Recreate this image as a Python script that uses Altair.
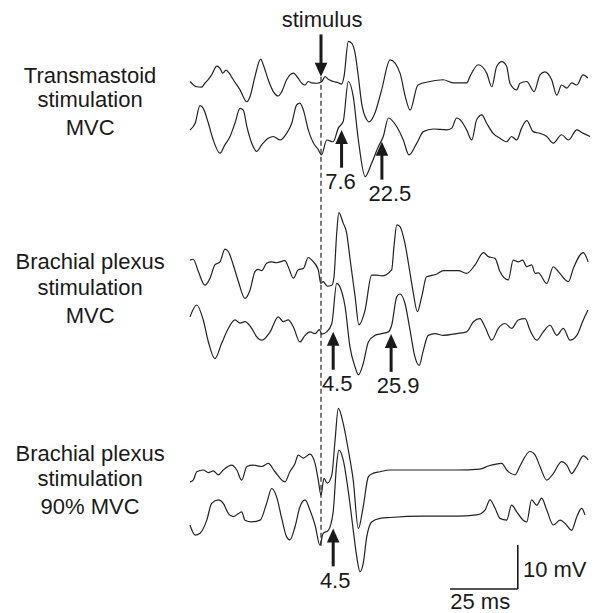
import altair as alt
import pandas as pd

# ---- EMG traces: (time in ms relative to stimulus, amplitude in mV relative to trace baseline)
trace_tm_upper = [(-48.4,0.1),(-45.9,-1.1),(-44.1,-1.2),(-42.9,-0.3),(-41.6,0.6),(-40.4,1.6),(-38.5,3.6),(-37.3,3.1),(-36.3,2.0),(-35.1,2.7),
    (-33.9,2.0),(-32.4,0.5),(-29.9,-1.8),(-27.4,-4.5),(-26.2,-3.3),(-24.4,1.2),(-22.3,5.2),(-21.1,3.5),(-19.5,0.5),(-17.6,-2.2),
    (-15.8,-3.2),(-14.5,-2.2),(-12.7,0.5),(-10.2,2.0),(-8.4,0.8),(-7.1,-0.3),(-5.9,-0.7),(-4.7,0.1),(-3.4,-0.2),(-1.6,-0.3),
    (0.3,0.1),(1.5,1.2),(2.7,0.6),(4.5,0.1),(6.4,-0.2),(7.6,-0.5),(8.5,1.2),(10.1,9.2),(11.3,8.8),(12.6,6.5),
    (13.8,1.2),(15.0,-4.8),(16.9,-8.6),(17.7,-9.1),(19.9,-7.1),(22.4,-1.8),(25.5,5.0),(29.2,2.0),(31.0,-3.0),(32.9,-6.4),
    (35.8,-0.7),(40.3,0.1),(45.1,0.5),(48.8,-0.2),(53.9,-0.2),(55.0,1.2),(58.1,3.9),(61.2,2.0),(63.1,-1.1),(64.9,3.5),
    (66.8,4.6),(68.6,3.5),(69.8,-0.3),(72.3,-1.8),(73.5,-0.3),(76.0,0.1),(78.7,-2.2),(80.9,1.6),(82.7,2.3),(85.2,0.5),
    (87.1,-3.0),(88.9,-0.7),(90.8,-1.4),(92.6,-0.2),(94.5,-0.7),(96.8,1.6),(98.6,0.9)]

trace_tm_lower = [(-48.4,0.0),(-46.5,1.5),(-44.7,5.5),(-43.5,4.9),(-41.6,1.5),(-39.8,-2.3),(-37.3,-5.3),(-35.5,-3.4),(-33.6,-1.5),(-31.8,1.5),
    (-29.9,4.9),(-28.7,4.5),(-27.4,0.8),(-25.6,-3.0),(-23.8,-4.9),(-21.9,-3.4),(-19.5,-1.9),(-17.6,-1.5),(-15.1,-2.3),(-12.7,-0.8),
    (-10.8,1.5),(-9.0,5.7),(-7.8,6.1),(-6.5,4.5),(-4.7,0.0),(-2.8,-3.0),(-1.0,-4.5),(0.2,-5.7),(2.1,-2.3),(4.5,-2.7),
    (6.4,0.4),(8.2,1.9),(10.1,11.0),(11.9,7.6),(13.8,-2.3),(16.3,-10.6),(18.7,-7.6),(21.2,-3.8),(23.0,-1.5),(24.9,2.7),
    (28.0,0.7),(30.4,-2.3),(32.5,-5.7),(35.4,-3.0),(37.8,-0.4),(41.5,0.2),(46.4,0.0),(48.3,0.4),(50.1,2.7),(52.0,1.9),
    (53.8,0.0),(55.7,-2.3),(57.5,2.3),(59.4,3.4),(61.2,1.5),(63.6,-0.8),(66.1,-1.9),(68.6,-2.7),(70.4,-1.5),(72.3,-2.3),
    (74.1,0.4),(76.0,2.1),(78.4,-0.4),(80.9,-0.8),(83.4,-1.5),(85.8,-3.0),(88.9,-1.1),(91.4,-2.3),(94.5,0.0),(96.9,-0.8),(99.4,-1.5)]

trace_bp_upper = [(-48.4,2.7),(-47.2,2.9),(-45.3,0.1),(-42.9,-3.0),(-41.0,-1.4),(-39.2,1.6),(-37.3,2.3),(-35.5,5.2),(-34.2,4.6),(-32.4,1.6),
    (-30.5,-2.2),(-28.1,-6.0),(-26.2,-4.1),(-24.4,0.1),(-23.2,0.6),(-21.9,0.3),(-20.1,2.0),(-18.2,2.3),(-16.4,2.1),(-13.3,2.6),
    (-12.1,1.2),(-10.2,-1.4),(-8.4,0.5),(-6.5,0.8),(-4.7,3.3),(-3.4,2.7),(-1.0,0.5),(-0.1,-2.6),(0.8,-2.2),(2.3,-3.2),
    (4.0,-3.0),(4.8,-1.1),(5.8,8.8),(6.6,13.5),(8.2,11.1),(9.5,8.8),(10.7,3.1),(12.6,-5.6),(14.0,-12.0),(16.3,-8.6),
    (18.7,-0.7),(20.6,-0.7),(22.4,-0.9),(26.1,0.5),(27.0,6.1),(28.0,10.7),(29.2,10.3),(31.0,6.5),(32.9,-0.3),(34.1,-4.8),
    (35.6,-9.0),(37.2,-5.6),(39.0,-1.1),(42.7,-0.5),(45.2,0.3),(50.7,0.3),(53.8,-0.3),(56.9,1.6),(60.0,4.4),(61.8,3.5),
    (64.3,3.1),(66.1,0.1),(69.2,-1.8),(71.0,2.7),(72.9,2.3),(74.5,2.7),(76.0,1.2),(77.8,1.6),(79.1,-0.3),(80.3,-0.2),
    (83.4,-2.6),(85.8,1.2),(87.7,0.1),(91.4,-2.2),(93.2,0.8),(96.9,4.4),(98.7,2.3)]

trace_bp_lower = [(-48.4,3.7),(-45.9,6.4),(-43.5,3.0),(-41.6,-2.0),(-39.2,-5.8),(-36.7,-2.3),(-34.2,1.1),(-31.8,3.0),(-29.9,2.3),(-28.1,2.6),
    (-25.6,1.1),(-23.8,-0.8),(-21.9,-1.6),(-18.8,0.3),(-15.8,3.7),(-13.9,2.6),(-12.1,3.0),(-10.2,1.4),(-7.8,-2.0),(-5.9,-0.5),
    (-4.1,0.3),(-2.2,-0.1),(-0.6,0.8),(0.3,-0.2),(2.1,0.3),(4.0,2.2),(5.8,11.3),(7.0,10.5),(8.9,6.0),(10.7,-3.1),
    (12.6,-7.7),(13.8,-9.5),(15.6,-6.9),(17.5,-2.0),(19.9,-0.5),(22.4,-0.1),(24.9,0.3),(26.1,1.8),(28.0,8.3),(29.2,8.9),
    (31.0,6.8),(32.9,0.7),(34.7,-5.4),(36.3,-7.3),(37.8,-3.9),(39.6,-0.5),(42.1,-0.1),(45.2,-0.5),(50.1,-0.1),(53.8,0.3),
    (56.3,2.6),(58.7,3.3),(60.6,1.4),(63.1,-1.6),(65.5,1.1),(68.0,2.2),(70.4,1.1),(72.9,3.0),(75.4,3.3),(77.2,0.7),
    (79.7,-1.6),(82.1,0.3),(84.6,1.8),(87.1,-0.5),(89.5,1.1),(92.0,-1.6),(94.5,-0.5),(96.9,3.0),(98.6,5.2)]

trace_bp90_upper = [(-48.4,-2.7),(-47.2,-2.3),(-45.9,-0.4),(-43.5,0.0),(-41.6,-0.6),(-39.8,-0.2),(-37.9,-1.1),(-36.1,0.0),(-33.0,1.1),(-31.1,0.0),
    (-29.3,-2.3),(-27.4,0.8),(-25.0,1.1),(-21.9,0.8),(-19.5,1.5),(-17.0,-0.4),(-13.3,-2.7),(-11.5,-0.4),(-9.6,1.5),(-8.4,3.4),
    (-6.5,2.7),(-4.1,3.6),(-2.2,1.5),(-1.0,-2.3),(0.0,-5.7),(1.1,-1.9),(2.3,-3.0),(4.0,-1.1),(5.2,6.8),(6.4,14.0),
    (8.2,10.6),(10.1,4.5),(11.9,-2.3),(13.8,-13.3),(15.6,-8.3),(17.5,-1.5),(18.7,-0.9),(21.8,-0.4),(25.5,0.0),(37.8,0.0),
    (50.1,0.0),(58.7,0.2),(61.8,0.9),(66.8,1.5),(68.6,0.0),(71.7,-1.1),(73.5,0.9),(77.2,4.2),(79.1,3.4),(80.9,0.8),
    (83.4,-2.3),(85.8,-0.8),(88.9,1.9),(90.8,1.1),(92.6,-0.8),(94.5,0.8),(96.9,3.2),(98.7,2.3)]

trace_bp90_lower = [(-48.4,-1.8),(-46.5,-4.1),(-44.7,-3.7),(-42.2,-0.7),(-40.4,3.1),(-37.9,3.9),(-36.1,3.1),(-34.2,0.8),(-32.4,0.1),(-30.5,0.8),
    (-29.3,1.2),(-28.1,-0.7),(-25.6,-1.1),(-22.5,-0.7),(-20.1,3.1),(-18.2,6.5),(-16.4,4.6),(-14.5,-0.3),(-12.7,-4.5),(-11.5,-5.2),
    (-9.6,-2.2),(-7.8,2.3),(-5.9,3.9),(-4.1,1.6),(-2.2,-1.8),(-0.4,-6.4),(0.8,-3.7),(2.7,-3.0),(4.5,1.2),(5.8,12.2),
    (6.6,15.2),(8.2,13.0),(10.1,5.8),(11.9,-2.9),(13.2,-9.0),(14.4,-12.4),(15.6,-10.5),(16.9,-4.5),(18.7,-1.1),(21.8,-0.3),
    (25.5,-0.1),(37.8,0.2),(50.1,0.2),(57.5,0.5),(60.6,1.6),(62.4,3.9),(64.3,2.0),(66.1,-0.3),(68.6,-0.7),(70.4,2.7),
    (72.3,1.2),(74.7,-0.7),(76.0,-1.1),(77.8,3.9),(79.7,2.7),(81.5,4.3),(83.4,1.6),(85.8,-1.8),(88.3,-0.7),(90.1,-1.4),
    (92.6,-3.0),(94.5,0.1),(96.3,2.0),(97.5,0.5)]

trace_names = ["TM-1", "TM-2", "BP-1", "BP-2", "BP90-1", "BP90-2"]
trace_offsets_mV = [120.7, 109.8, 77.5, 63.6, 32.5, 21.8]
traces = [trace_tm_upper, trace_tm_lower, trace_bp_upper, trace_bp_lower, trace_bp90_upper, trace_bp90_lower]

# latency markers: (latency ms, trace index, amplitude of arrow tip relative to baseline)
latencies = [(7.6, 1, 0.0), (22.5, 1, -2.7), (4.5, 3, 0.3), (25.9, 3, -0.2), (4.5, 5, -2.6)]
latency_labels = ["7.6", "22.5", "4.5", "25.9", "4.5"]
label_dx = [-1, 8, 4, 7, 2]

group_labels = [("Transmastoid", 122.0), ("stimulation", 116.6), ("MVC", 110.2),
                ("Brachial plexus", 79.8), ("stimulation", 73.9), ("MVC", 67.5),
                ("Brachial plexus", 36.1), ("stimulation", 30.5), ("90% MVC", 24.1)]
label_x_ms = -85.3

# scale bar (25 ms, 10 mV)
bar_t0, bar_len_ms = 47.7, 25.0
bar_y0, bar_len_mV = 5.45, 10.0

FONT = "Liberation Sans"
FS = 22
INK = "#1a1a1a"

xs = alt.Scale(domain=[-118.58, 100.85], nice=False, zero=False)
ys = alt.Scale(domain=[0, 139.32], nice=False, zero=False)

rows = []
for name, off, pts in zip(trace_names, trace_offsets_mV, traces):
    for t, a in pts:
        rows.append({"trace": name, "t": t, "y": off + a})
df = pd.DataFrame(rows)

lines = alt.Chart(df).mark_line(interpolate="monotone", strokeWidth=1.2, color="#222222").encode(
    x=alt.X("t:Q", scale=xs, axis=None),
    y=alt.Y("y:Q", scale=ys, axis=None),
    detail="trace:N",
)

# stimulus marker
stim_tip = 121.9
dash_df = pd.DataFrame({"t": [0.0], "y": [stim_tip], "y2": [14.8]})
dashed = alt.Chart(dash_df).mark_rule(strokeDash=[5, 3], strokeWidth=1.1, color="#111111").encode(
    x=alt.X("t:Q", scale=xs), y=alt.Y("y:Q", scale=ys), y2="y2:Q")
stim_shaft = alt.Chart(pd.DataFrame({"t": [0.0], "y": [131.5], "y2": [stim_tip + 2.6]})).mark_rule(
    strokeWidth=3, color=INK).encode(x=alt.X("t:Q", scale=xs), y=alt.Y("y:Q", scale=ys), y2="y2:Q")
stim_head = alt.Chart(pd.DataFrame({"t": [0.0], "y": [stim_tip]})).mark_point(
    shape="M-0.45,-1L0.45,-1L0,0Z", filled=True, size=784, color=INK, opacity=1, strokeWidth=0).encode(
    x=alt.X("t:Q", scale=xs), y=alt.Y("y:Q", scale=ys))
stim_text = alt.Chart(pd.DataFrame({"t": [0.4], "y": [134.8], "txt": ["stimulus"]})).mark_text(
    font=FONT, fontSize=FS, color=INK, align="center", baseline="middle").encode(
    x=alt.X("t:Q", scale=xs), y=alt.Y("y:Q", scale=ys), text="txt:N")

# latency arrows
arr_rows = []
for (lat, ti, tip), lab in zip(latencies, latency_labels):
    ytip = trace_offsets_mV[ti] + tip
    arr_rows.append({"t": lat, "tip": ytip, "s1": ytip - 2.6, "s2": ytip - 8.6, "ly": ytip - 11.9, "lab": lab})
adf = pd.DataFrame(arr_rows)
shafts = alt.Chart(adf).mark_rule(strokeWidth=3, color=INK).encode(
    x=alt.X("t:Q", scale=xs), y=alt.Y("s1:Q", scale=ys), y2="s2:Q")
heads = alt.Chart(adf).mark_point(
    shape="M-0.45,1L0.45,1L0,0Z", filled=True, size=784, color=INK, opacity=1, strokeWidth=0).encode(
    x=alt.X("t:Q", scale=xs), y=alt.Y("tip:Q", scale=ys))
lat_texts = []
for i in range(len(adf)):
    lat_texts.append(alt.Chart(adf.iloc[[i]]).mark_text(
        font=FONT, fontSize=FS, color=INK, align="center", baseline="middle", dx=label_dx[i]).encode(
        x=alt.X("t:Q", scale=xs), y=alt.Y("ly:Q", scale=ys), text="lab:N"))

# condition labels
gdf = pd.DataFrame({"t": [label_x_ms] * len(group_labels), "y": [g[1] for g in group_labels],
                    "txt": [g[0] for g in group_labels]})
gtext = alt.Chart(gdf).mark_text(font=FONT, fontSize=FS, color=INK, align="center", baseline="middle").encode(
    x=alt.X("t:Q", scale=xs), y=alt.Y("y:Q", scale=ys), text="txt:N")

# scale bar
hbar = alt.Chart(pd.DataFrame({"t": [bar_t0], "t2": [bar_t0 + bar_len_ms], "y": [bar_y0]})).mark_rule(
    strokeWidth=1.6, color=INK).encode(x=alt.X("t:Q", scale=xs), x2="t2:Q", y=alt.Y("y:Q", scale=ys))
vbar = alt.Chart(pd.DataFrame({"t": [bar_t0 + bar_len_ms], "y": [bar_y0], "y2": [bar_y0 + bar_len_mV]})).mark_rule(
    strokeWidth=1.6, color=INK).encode(x=alt.X("t:Q", scale=xs), y=alt.Y("y:Q", scale=ys), y2="y2:Q")
mv_text = alt.Chart(pd.DataFrame({"t": [74.6], "y": [9.8], "txt": ["10 mV"]})).mark_text(
    font=FONT, fontSize=FS, color=INK, baseline="middle", align="left").encode(
    x=alt.X("t:Q", scale=xs), y=alt.Y("y:Q", scale=ys), text="txt:N")
ms_text = alt.Chart(pd.DataFrame({"t": [58.8], "y": [2.4], "txt": ["25 ms"]})).mark_text(
    font=FONT, fontSize=FS, color=INK, baseline="middle", align="center").encode(
    x=alt.X("t:Q", scale=xs), y=alt.Y("y:Q", scale=ys), text="txt:N")

chart = alt.layer(lines, dashed, stim_shaft, stim_head, stim_text, shafts, heads, *lat_texts,
                  gtext, hbar, vbar, mv_text, ms_text).properties(
    width=594, height=613, autosize=alt.AutoSizeParams(type="none"), padding=0,
    background="white").configure_view(stroke=None)

chart.save("out.html", embed_options={"renderer": "svg", "actions": False})
